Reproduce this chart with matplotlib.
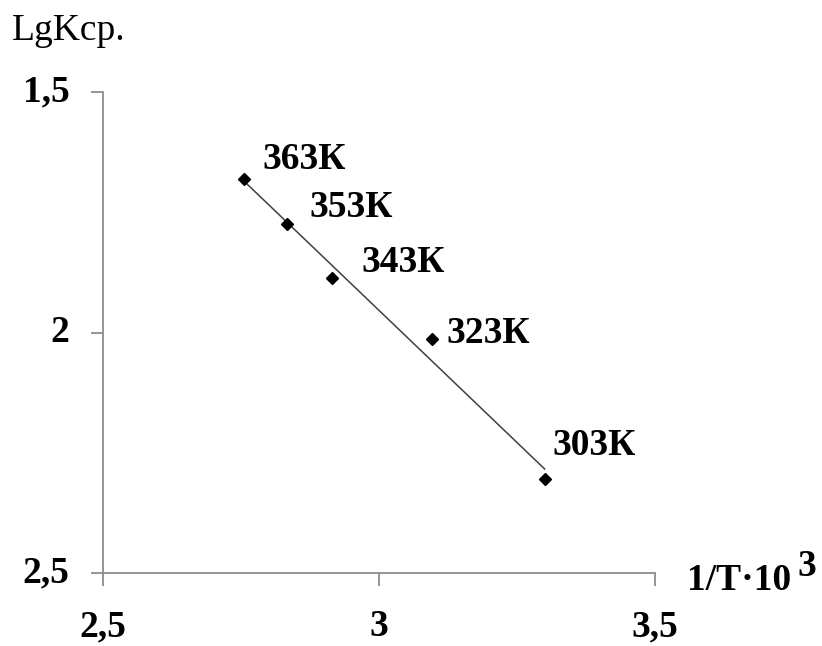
import matplotlib
matplotlib.use("Agg")
import matplotlib.pyplot as plt
import matplotlib.transforms as mtransforms
import numpy as np

labels = ["363К", "353К", "343К", "323К", "303К"]
inv_T = [2.755, 2.833, 2.915, 3.096, 3.300]
lgK = [1.680, 1.775, 1.886, 2.014, 2.304]
x_ticks = [2.5, 3.0, 3.5]
x_tick_labels = ["2,5", "3", "3,5"]
y_ticks = [1.5, 2.0, 2.5]
y_tick_labels = ["1,5", "2", "2,5"]

plt.rcParams['font.family'] = ['Liberation Serif', 'DejaVu Serif']
FS = 27

fig = plt.figure(figsize=(8.22, 6.46), dpi=100)
ax = fig.add_axes([103/822, 1-573/646, 552/822, 481/646])

# trend line (least squares)
k, b = np.polyfit(inv_T, lgK, 1)
xs = np.array([min(inv_T), max(inv_T)])
ax.plot(xs, k*xs + b, color='#404040', lw=1.1, zorder=2)
ax.plot(inv_T, lgK, linestyle='none', marker='D', ms=6, color='black', zorder=3)

offsets = [(19, 19), (23, 17), (29, 15), (14, 6), (8, 33)]
for xi, yi, lab, off in zip(inv_T, lgK, labels, offsets):
    ax.annotate(lab, (xi, yi), xytext=off, textcoords='offset pixels',
                ha='left', va='center', fontsize=FS, fontweight='bold')

ax.set_xlim(2.5, 3.5)
ax.set_ylim(2.5, 1.5)
ax.set_xticks(x_ticks)
ax.set_xticklabels(x_tick_labels)
ax.set_yticks(y_ticks)
ax.set_yticklabels(y_tick_labels)
for s in ['top', 'right']:
    ax.spines[s].set_visible(False)
for s in ['left', 'bottom']:
    ax.spines[s].set_color('#8c8c8c')
    ax.spines[s].set_linewidth(1.3)
ax.tick_params(axis='both', direction='out', length=9, width=1.3, color='#8c8c8c',
               labelsize=FS)
ax.tick_params(axis='x', pad=17)
ax.tick_params(axis='y', pad=15)
shift = mtransforms.ScaledTranslation(0, 4/100, fig.dpi_scale_trans)
for t in ax.get_yticklabels():
    t.set_transform(t.get_transform() + shift)
for t in ax.get_xticklabels() + ax.get_yticklabels():
    t.set_fontweight('bold')

fig.text(12/822, 1-31/646, "LgKcp.", fontsize=FS, ha='left', va='center')
fig.text(687/822, 1-580/646, "1/T·10", fontsize=FS, fontweight='bold', ha='left', va='center')
fig.text(797/822, 1-566/646, "3", fontsize=FS, fontweight='bold', ha='left', va='center')

fig.savefig("out.png", dpi=100)
